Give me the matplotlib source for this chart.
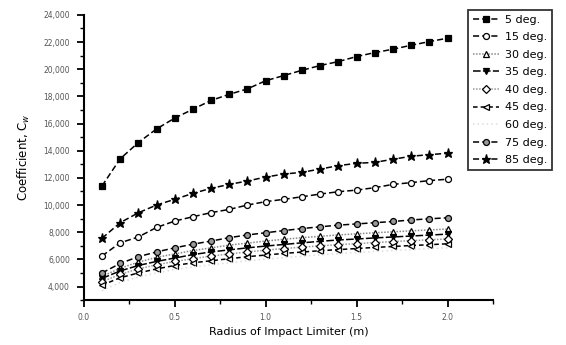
import numpy as np
import matplotlib
matplotlib.use("Agg")
import matplotlib.pyplot as plt
from matplotlib.ticker import MultipleLocator, FuncFormatter

# radius of impact limiter (m)
radius = [0.1, 0.2, 0.3, 0.4, 0.5, 0.6, 0.7, 0.8, 0.9, 1.0,
          1.1, 1.2, 1.3, 1.4, 1.5, 1.6, 1.7, 1.8, 1.9, 2.0]

c_5 = [11400, 13400, 14600, 15600, 16400, 17050, 17700, 18150, 18550, 19150,
       19530, 19920, 20270, 20560, 20930, 21220, 21470, 21760, 22030, 22280]
c_15 = [6250, 7220, 7650, 8350, 8820, 9140, 9440, 9680, 10000, 10250,
        10420, 10610, 10810, 10980, 11100, 11280, 11520, 11650, 11800, 11900]
c_30 = [4750, 5350, 5800, 6150, 6400, 6650, 6850, 7050, 7200, 7350,
        7480, 7600, 7700, 7800, 7880, 7960, 8030, 8100, 8170, 8230]
c_35 = [4600, 5150, 5550, 5850, 6100, 6350, 6550, 6700, 6850, 6980,
        7100, 7220, 7330, 7430, 7500, 7580, 7650, 7720, 7790, 7860]
c_40 = [4350, 4900, 5300, 5600, 5850, 6050, 6250, 6400, 6550, 6680,
        6800, 6900, 7000, 7080, 7160, 7240, 7310, 7380, 7440, 7500]
c_45 = [4100, 4650, 5000, 5300, 5550, 5750, 5900, 6050, 6200, 6320,
        6440, 6540, 6640, 6720, 6800, 6880, 6950, 7020, 7080, 7150]
c_60 = [3700, 4300, 4700, 5000, 5250, 5450, 5600, 5750, 5900, 6020,
        6130, 6230, 6330, 6420, 6500, 6580, 6650, 6720, 6790, 6850]
c_75 = [5000, 5700, 6200, 6550, 6850, 7120, 7350, 7600, 7800, 7960,
        8120, 8270, 8400, 8520, 8610, 8700, 8790, 8900, 8990, 9060]
c_85 = [7550, 8700, 9430, 10000, 10420, 10860, 11230, 11520, 11770, 12060,
        12280, 12410, 12650, 12900, 13070, 13140, 13370, 13590, 13710, 13810]

labels = ['5 deg.', '15 deg.', '30 deg.', '35 deg.', '40 deg.',
          '45 deg.', '60 deg.', '75 deg.', '85 deg.']

# (data, marker, face, line color, linestyle)
styles = [
    (c_5, 's', 'black', 'black', (0, (4, 2))),
    (c_15, 'o', 'white', 'black', (0, (4, 2))),
    (c_30, '^', 'white', '#888888', (0, (1, 1))),
    (c_35, 'v', 'black', 'black', (0, (5, 1.5))),
    (c_40, 'D', 'white', '#999999', (0, (1, 1))),
    (c_45, '<', 'white', 'black', (0, (3, 2))),
    (c_60, '', 'none', '#dddddd', (0, (1, 2))),
    (c_75, 'o', '#999999', 'black', (0, (4, 2))),
    (c_85, '*', 'black', 'black', (0, (4, 2))),
]

fig = plt.figure(figsize=(5.66, 3.45), dpi=100)
ax = fig.add_axes([0.148, 0.130, 0.723, 0.827])

for (vals, mk, face, col, ls), lab in zip(styles, labels):
    ms = 6.5 if mk == '*' else 4.3
    ax.plot(radius, vals, linestyle=ls, color=col, linewidth=1.1,
            marker=mk if mk else None, markersize=ms,
            markerfacecolor=face, markeredgecolor='black',
            markeredgewidth=0.9, label=lab)

ax.set_xlim(0, 2.25)
ax.set_ylim(3000, 24000)
ax.xaxis.set_major_locator(MultipleLocator(0.5))
ax.xaxis.set_minor_locator(MultipleLocator(0.25))
ax.yaxis.set_major_locator(MultipleLocator(2000))
ax.yaxis.set_minor_locator(MultipleLocator(1000))
ax.yaxis.set_major_formatter(FuncFormatter(lambda v, p: f"{int(v):,}"))
ax.xaxis.set_major_formatter(FuncFormatter(lambda v, p: f"{v:.1f}"))

for s in ['top', 'right']:
    ax.spines[s].set_visible(False)
for s in ['left', 'bottom']:
    ax.spines[s].set_linewidth(1.5)

ax.tick_params(which='major', direction='out', length=5, width=1.3,
               labelsize=5.5, labelcolor='#555555', pad=5)
ax.tick_params(which='minor', direction='out', length=3, width=1.0)
ax.tick_params(axis='x', which='major', pad=4)

ax.set_xlabel('Radius of Impact Limiter (m)', fontsize=8, labelpad=4)
ax.set_ylabel('Coefficient, C$_w$', fontsize=8.5, labelpad=8)

leg = ax.legend(loc='upper right', bbox_to_anchor=(0.985, 0.988),
                bbox_transform=fig.transFigure, fontsize=8,
                frameon=True, fancybox=False, edgecolor='black',
                handlelength=2.3, handletextpad=0.5, labelspacing=0.68,
                borderpad=0.45)
leg.get_frame().set_linewidth(1.3)

fig.savefig('out.png', dpi=100)
